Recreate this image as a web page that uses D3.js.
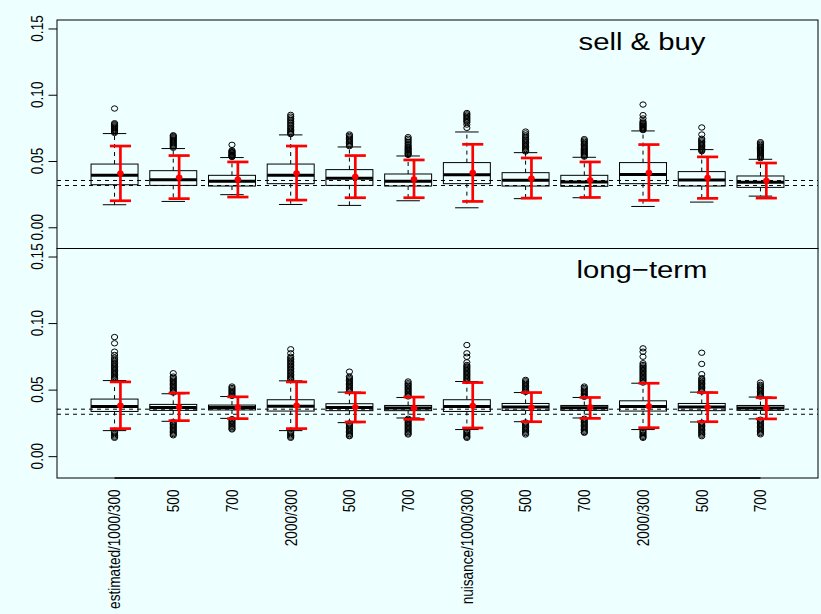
<!DOCTYPE html>
<html>
<head>
<meta charset="utf-8">
<script src="https://cdn.jsdelivr.net/npm/d3@7"></script>
<style>
  html, body { margin: 0; padding: 0; background: #EDFFFF; }
  svg { display: block; }
  text { font-family: "Liberation Sans", Arial, Helvetica, sans-serif; fill: #000; }
</style>
</head>
<body>
<svg id="chart" width="821" height="614"></svg>
<script>
// ---- data -------------------------------------------------------------
const categories = ["estimated/1000/300", "500", "700", "2000/300", "500", "700",
                    "nuisance/1000/300", "500", "700", "2000/300", "500", "700"];
const yTicks = [0.00, 0.05, 0.10, 0.15];
const refLines = [0.0353, 0.0315];

// panel 1: sell & buy
const sbLow    = [0.0170, 0.0195, 0.0246, 0.0172, 0.0165, 0.0200, 0.0147, 0.0216, 0.0223, 0.0157, 0.0190, 0.0235];
const sbQ1     = [0.0321, 0.0316, 0.0311, 0.0329, 0.0316, 0.0311, 0.0329, 0.0311, 0.0309, 0.0329, 0.0311, 0.0301];
const sbMedian = [0.0392, 0.0359, 0.0347, 0.0392, 0.0369, 0.0347, 0.0397, 0.0354, 0.0341, 0.0399, 0.0356, 0.0339];
const sbQ3     = [0.0477, 0.0427, 0.0392, 0.0477, 0.0435, 0.0402, 0.0488, 0.0412, 0.0392, 0.0488, 0.0420, 0.0387];
const sbHigh   = [0.0707, 0.0594, 0.0526, 0.0697, 0.0606, 0.0538, 0.0719, 0.0563, 0.0528, 0.0727, 0.0586, 0.0513];
const sbMean   = [0.0407, 0.0377, 0.0362, 0.0409, 0.0382, 0.0364, 0.0412, 0.0369, 0.0356, 0.0412, 0.0374, 0.0352];
const sbCiLow  = [0.0200, 0.0216, 0.0228, 0.0205, 0.0223, 0.0223, 0.0195, 0.0220, 0.0225, 0.0203, 0.0218, 0.0220];
const sbCiHigh = [0.0613, 0.0541, 0.0493, 0.0613, 0.0541, 0.0508, 0.0626, 0.0523, 0.0493, 0.0624, 0.0531, 0.0485];
const sbOutliers = [
  [0.0896, 0.0785, 0.0778, 0.0770, 0.0762, 0.0755, 0.0748, 0.0740, 0.0733, 0.0726, 0.0719, 0.0712],
  [0.0694, 0.0688, 0.0680, 0.0672, 0.0664, 0.0656, 0.0648, 0.0640, 0.0632, 0.0624, 0.0616, 0.0608, 0.0600],
  [0.0622, 0.0580, 0.0574, 0.0568, 0.0562, 0.0556, 0.0550, 0.0545, 0.0540, 0.0535, 0.0530],
  [0.0848, 0.0835, 0.0822, 0.0810, 0.0798, 0.0786, 0.0774, 0.0762, 0.0750, 0.0740, 0.0730, 0.0720, 0.0710, 0.0703],
  [0.0700, 0.0690, 0.0680, 0.0670, 0.0660, 0.0650, 0.0640, 0.0630, 0.0620, 0.0612],
  [0.0680, 0.0668, 0.0656, 0.0644, 0.0632, 0.0620, 0.0610, 0.0600, 0.0592, 0.0584, 0.0576, 0.0568, 0.0560, 0.0553, 0.0546],
  [0.0862, 0.0852, 0.0842, 0.0832, 0.0822, 0.0812, 0.0802, 0.0793, 0.0775, 0.0750],
  [0.0722, 0.0708, 0.0694, 0.0682, 0.0670, 0.0660, 0.0650, 0.0640, 0.0630, 0.0620, 0.0610, 0.0600, 0.0590, 0.0580, 0.0572],
  [0.0665, 0.0655, 0.0645, 0.0635, 0.0625, 0.0615, 0.0605, 0.0596, 0.0588, 0.0580, 0.0572, 0.0564, 0.0556, 0.0548, 0.0540, 0.0533],
  [0.0926, 0.0846, 0.0821, 0.0800, 0.0790, 0.0783, 0.0776, 0.0769, 0.0762, 0.0755, 0.0748, 0.0740, 0.0733],
  [0.0753, 0.0700, 0.0668, 0.0658, 0.0648, 0.0638, 0.0628, 0.0618, 0.0608, 0.0598, 0.0590, 0.0582, 0.0574],
  [0.0642, 0.0632, 0.0622, 0.0612, 0.0602, 0.0593, 0.0585, 0.0577, 0.0569, 0.0561, 0.0553, 0.0545, 0.0537, 0.0529, 0.0521]
];

// panel 2: long-term
const ltLow    = [0.0192, 0.0262, 0.0284, 0.0192, 0.0252, 0.0287, 0.0200, 0.0259, 0.0287, 0.0200, 0.0257, 0.0280];
const ltQ1     = [0.0336, 0.0344, 0.0347, 0.0339, 0.0342, 0.0342, 0.0336, 0.0344, 0.0344, 0.0339, 0.0342, 0.0344];
const ltMedian = [0.0374, 0.0366, 0.0366, 0.0376, 0.0366, 0.0362, 0.0374, 0.0369, 0.0364, 0.0374, 0.0369, 0.0362];
const ltQ3     = [0.0429, 0.0389, 0.0384, 0.0424, 0.0394, 0.0381, 0.0424, 0.0396, 0.0381, 0.0416, 0.0396, 0.0381];
const ltHigh   = [0.0568, 0.0469, 0.0448, 0.0566, 0.0481, 0.0441, 0.0561, 0.0478, 0.0441, 0.0548, 0.0481, 0.0444];
const ltMean   = [0.0381, 0.0369, 0.0369, 0.0381, 0.0369, 0.0362, 0.0379, 0.0366, 0.0369, 0.0376, 0.0369, 0.0364];
const ltCiLow  = [0.0207, 0.0267, 0.0282, 0.0207, 0.0257, 0.0277, 0.0212, 0.0259, 0.0284, 0.0214, 0.0259, 0.0280];
const ltCiHigh = [0.0558, 0.0474, 0.0446, 0.0558, 0.0476, 0.0444, 0.0553, 0.0478, 0.0441, 0.0548, 0.0478, 0.0439];
const ltOutliers = [
  [0.0895, 0.0848, 0.0785, 0.0760, 0.0740, 0.0728, 0.0716, 0.0704, 0.0694, 0.0684, 0.0674, 0.0664, 0.0654, 0.0644, 0.0634, 0.0624, 0.0614, 0.0604, 0.0594, 0.0584, 0.0576,
   0.0186, 0.0176, 0.0166, 0.0156, 0.0146, 0.0138],
  [0.0623, 0.0598, 0.0588, 0.0578, 0.0568, 0.0558, 0.0548, 0.0538, 0.0528, 0.0518, 0.0508, 0.0498, 0.0488, 0.0478,
   0.0256, 0.0246, 0.0236, 0.0226, 0.0216, 0.0206, 0.0196, 0.0186, 0.0176, 0.0166, 0.0157],
  [0.0523, 0.0512, 0.0502, 0.0492, 0.0482, 0.0472, 0.0462, 0.0453,
   0.0278, 0.0268, 0.0258, 0.0248, 0.0238, 0.0228, 0.0218, 0.0208, 0.0201],
  [0.0803, 0.0773, 0.0747, 0.0736, 0.0725, 0.0714, 0.0703, 0.0692, 0.0681, 0.0670, 0.0659, 0.0648, 0.0637, 0.0626, 0.0615, 0.0604, 0.0594, 0.0584, 0.0575,
   0.0186, 0.0176, 0.0166, 0.0156, 0.0146, 0.0138],
  [0.0635, 0.0598, 0.0588, 0.0578, 0.0568, 0.0558, 0.0548, 0.0538, 0.0528, 0.0518, 0.0508, 0.0498, 0.0488,
   0.0246, 0.0236, 0.0226, 0.0216, 0.0206, 0.0196, 0.0186, 0.0176, 0.0166, 0.0156, 0.0150],
  [0.0561, 0.0548, 0.0538, 0.0528, 0.0518, 0.0508, 0.0498, 0.0488, 0.0478, 0.0468, 0.0458, 0.0449,
   0.0281, 0.0271, 0.0261, 0.0251, 0.0241, 0.0231, 0.0221, 0.0211, 0.0201, 0.0191, 0.0181, 0.0171, 0.0163],
  [0.0835, 0.0773, 0.0747, 0.0705, 0.0685, 0.0675, 0.0665, 0.0655, 0.0645, 0.0635, 0.0625, 0.0615, 0.0605, 0.0595, 0.0585, 0.0575, 0.0565,
   0.0194, 0.0184, 0.0174, 0.0164, 0.0154, 0.0145, 0.0138],
  [0.0573, 0.0563, 0.0553, 0.0543, 0.0533, 0.0523, 0.0513, 0.0503, 0.0493, 0.0483,
   0.0253, 0.0243, 0.0233, 0.0223, 0.0213, 0.0203, 0.0193, 0.0183, 0.0173, 0.0163],
  [0.0523, 0.0513, 0.0503, 0.0493, 0.0483, 0.0473, 0.0463, 0.0453, 0.0446,
   0.0281, 0.0271, 0.0261, 0.0251, 0.0241, 0.0231, 0.0221, 0.0211, 0.0201, 0.0191, 0.0181, 0.0176],
  [0.0810, 0.0785, 0.0747, 0.0698, 0.0685, 0.0675, 0.0665, 0.0655, 0.0645, 0.0635, 0.0625, 0.0615, 0.0605, 0.0595, 0.0585, 0.0575, 0.0565, 0.0553,
   0.0194, 0.0184, 0.0174, 0.0164, 0.0154, 0.0145, 0.0138],
  [0.0777, 0.0693, 0.0616, 0.0586, 0.0576, 0.0566, 0.0556, 0.0546, 0.0536, 0.0526, 0.0516, 0.0506, 0.0496, 0.0486,
   0.0251, 0.0241, 0.0231, 0.0221, 0.0211, 0.0201, 0.0191, 0.0181, 0.0171, 0.0161, 0.0150],
  [0.0553, 0.0536, 0.0526, 0.0516, 0.0506, 0.0496, 0.0486, 0.0476, 0.0466, 0.0456, 0.0448,
   0.0274, 0.0264, 0.0254, 0.0244, 0.0234, 0.0224, 0.0214, 0.0204, 0.0194, 0.0184, 0.0174, 0.0164]
];

// ---- layout -----------------------------------------------------------
const SX = 1.19;                  // horizontal stretch of the device
const plotLeft = 57, plotRight = 818;
const font = '"Liberation Sans", Arial, Helvetica, sans-serif';

const svg = d3.select("#chart");
svg.append("rect").attr("width", 821).attr("height", 614).attr("fill", "#EDFFFF");

const x = d3.scaleLinear().domain([0.02, 12.98]).range([plotLeft, plotRight]);
const unit = x(1) - x(0);

const panels = [
  { title: "sell & buy", top: 20, bottom: 249, borderTop: 20, borderBottom: 248.5, titleY: 50,
    low: sbLow, q1: sbQ1, med: sbMedian, q3: sbQ3, high: sbHigh,
    mean: sbMean, ciLow: sbCiLow, ciHigh: sbCiHigh, out: sbOutliers, xAxis: false },
  { title: "long\u2212term", top: 248, bottom: 478, borderTop: 248.5, borderBottom: 478, titleY: 278,
    low: ltLow, q1: ltQ1, med: ltMedian, q3: ltQ3, high: ltHigh,
    mean: ltMean, ciLow: ltCiLow, ciHigh: ltCiHigh, out: ltOutliers, xAxis: true }
];

panels.forEach(p => {
  const y = d3.scaleLinear().domain([-0.0164, 0.1564]).range([p.bottom, p.top]);
  const g = svg.append("g");
  const idx = d3.range(categories.length);

  // y axis ticks
  const axis = d3.axisLeft(y).tickValues(yTicks).tickSize(8.5).tickSizeOuter(0).tickFormat("");
  const ag = g.append("g").attr("transform", `translate(${plotLeft},0)`).call(axis);
  ag.select(".domain").remove();
  ag.selectAll(".tick line").attr("stroke", "#000").attr("stroke-width", 1);

  // y tick labels, rotated
  g.selectAll("text.ylab").data(yTicks).join("text")
    .attr("class", "ylab")
    .attr("transform", d => `translate(37.5,${y(d)}) scale(${SX},1) rotate(-90)`)
    .attr("text-anchor", "middle")
    .attr("dy", "0.36em")
    .style("font-size", "13.6px")
    .text(d3.format(".2f"));

  // boxes
  const bw = 0.4 * unit, sw = 0.2 * unit;
  const boxes = g.append("g");
  idx.forEach(i => {
    const cx = x(i + 1);
    const bx = boxes.append("g");
    // whiskers
    bx.append("line").attr("x1", cx).attr("x2", cx).attr("y1", y(p.q3[i])).attr("y2", y(p.high[i]))
      .attr("stroke", "#000").attr("stroke-dasharray", "4,4");
    bx.append("line").attr("x1", cx).attr("x2", cx).attr("y1", y(p.q1[i])).attr("y2", y(p.low[i]))
      .attr("stroke", "#000").attr("stroke-dasharray", "4,4");
    // staples
    [p.high[i], p.low[i]].forEach(v => {
      bx.append("line").attr("x1", cx - sw).attr("x2", cx + sw).attr("y1", y(v)).attr("y2", y(v))
        .attr("stroke", "#000");
    });
    // box
    bx.append("rect").attr("x", cx - bw).attr("width", 2 * bw)
      .attr("y", y(p.q3[i])).attr("height", y(p.q1[i]) - y(p.q3[i]))
      .attr("fill", "none").attr("stroke", "#000");
    // median
    bx.append("line").attr("x1", cx - bw).attr("x2", cx + bw).attr("y1", y(p.med[i])).attr("y2", y(p.med[i]))
      .attr("stroke", "#000").attr("stroke-width", 3);
    // outliers
    bx.selectAll("ellipse").data(p.out[i]).join("ellipse")
      .attr("cx", cx).attr("cy", d => y(d)).attr("rx", 3.1).attr("ry", 2.7)
      .attr("fill", "none").attr("stroke", "#000").attr("stroke-width", 1);
  });

  // reference lines
  g.selectAll("line.ref").data(refLines).join("line")
    .attr("class", "ref")
    .attr("x1", plotLeft).attr("x2", plotRight)
    .attr("y1", d => y(d)).attr("y2", d => y(d))
    .attr("stroke", "#000").attr("stroke-dasharray", "4,4");

  // mean and interval, in red
  const off = 0.1 * unit, cw = 0.18 * unit;
  const red = g.append("g");
  idx.forEach(i => {
    const cx = x(i + 1) + off;
    red.append("line").attr("x1", cx).attr("x2", cx).attr("y1", y(p.ciLow[i])).attr("y2", y(p.ciHigh[i]))
      .attr("stroke", "#FF0000").attr("stroke-width", 2.7);
    [p.ciLow[i], p.ciHigh[i]].forEach(v => {
      red.append("line").attr("x1", cx - cw).attr("x2", cx + cw).attr("y1", y(v)).attr("y2", y(v))
        .attr("stroke", "#FF0000").attr("stroke-width", 2.7);
    });
    red.append("ellipse").attr("cx", cx).attr("cy", y(p.mean[i])).attr("rx", 3.3).attr("ry", 2.9)
      .attr("fill", "#FF0000");
  });

  // panel border
  g.append("rect").attr("x", plotLeft).attr("y", p.borderTop)
    .attr("width", plotRight - plotLeft).attr("height", p.borderBottom - p.borderTop)
    .attr("fill", "none").attr("stroke", "#000").attr("stroke-width", 1);

  // panel title
  g.append("text")
    .attr("transform", `translate(642,${p.titleY}) scale(${SX},1)`)
    .attr("text-anchor", "middle")
    .style("font-size", "24.6px")
    .text(p.title);

  // category axis along the bottom panel
  if (p.xAxis) {
    g.append("line").attr("x1", x(1)).attr("x2", x(categories.length))
      .attr("y1", p.borderBottom).attr("y2", p.borderBottom).attr("stroke", "#000").attr("stroke-width", 1.3);
    g.selectAll("text.xlab").data(categories).join("text")
      .attr("class", "xlab")
      .attr("transform", (d, i) => `translate(${x(i + 1)},489.5) scale(${SX},1) rotate(-90)`)
      .attr("text-anchor", "end")
      .attr("dy", "0.36em")
      .style("font-size", "13.6px")
      .text(d => d);
  }
});
</script>
</body>
</html>
